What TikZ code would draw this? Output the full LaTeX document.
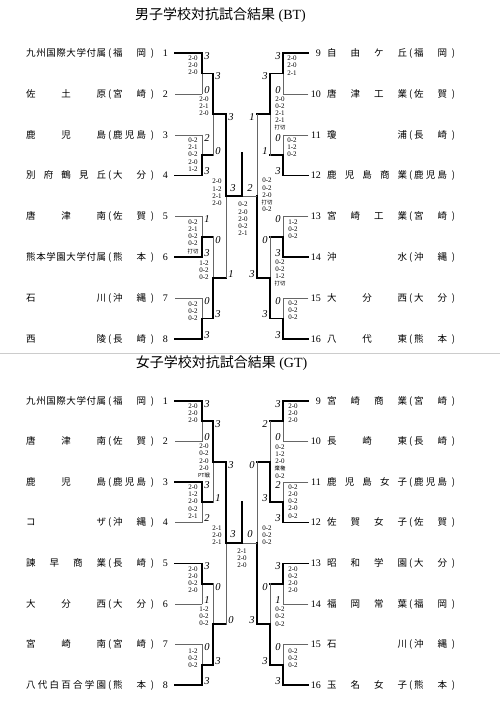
\documentclass[tikz,border=0pt]{standalone}
\usepackage{fontspec}
\setmainfont{Liberation Serif}
\newfontfamily\jp{Noto Sans CJK JP}
\usetikzlibrary{calc}

% spread the characters of a name over its box
\def\spreadit#1{\spreadA#1\relax}
\def\spreadA#1#2{#1\ifx\relax#2\else\hfill\expandafter\spreadA\expandafter#2\fi}
\newcommand\team[2]{\makebox[80pt]{\spreadit{#1}}\makebox[7pt]{(}\makebox[33pt]{\spreadit{#2}}\makebox[8pt][r]{)}}
\newcommand\kj[1]{{\jp\fontsize{5.4}{5}\selectfont #1}}

% id, y, number, name, prefecture, line style
\newcommand\lteam[6]{%
  \node[tnum, anchor=east] (#1) at (168,#2) {#3};
  \node[tname, anchor=west] (#1n) at (26,#2) {\team{#4}{#5}};
  \draw[#6] (#1.east -| LT) -- (#1.east -| LV);
}
\newcommand\rteam[6]{%
  \node[tnum, anchor=east] (#1) at (321,#2) {#3};
  \node[tname, anchor=west] (#1n) at (327,#2) {\team{#4}{#5}};
  \draw[#6] (#1.east -| RT) -- (#1.east -| RV);
}
% [stub style] name, x vertical, x next, y top, y bottom, winner a/b, score top, score bottom
\newcommand\bout[9][won]{%
  \coordinate (#2a) at (#3,#5);
  \coordinate (#2b) at (#3,#6);
  \coordinate (#2) at (#3,{(#5+#6)/2});
  \coordinate (#2s) at (#4,{(#5+#6)/2});
  \if a#7\draw[lost] (#2b) -- (#2);\else\draw[lost] (#2a) -- (#2);\fi
  \draw[won] (#2#7) -- (#2);
  \draw[#1] (#2) -- (#2s);
  \node[pts] at ($(#2a)+({5*sign(#4-#3)},3)$) {#8};
  \node[pts] at ($(#2b)+({5*sign(#4-#3)},-4)$) {#9};
}

\begin{document}
\begin{tikzpicture}[x=1pt, y=-1pt,
    won/.style={line width=1.9pt, line cap=rect},
    lost/.style={line width=0.6pt, black!60, line cap=rect},
    tname/.style={inner sep=0pt, font=\jp\fontsize{9.5}{10}\selectfont},
    tnum/.style={inner sep=0pt, font=\fontsize{10}{10}\selectfont},
    pts/.style={inner sep=0pt, font=\itshape\fontsize{10.5}{10.5}\selectfont},
    games/.style={inner sep=0pt, align=center, font=\fontsize{7}{7.2}\selectfont},
    ttl/.style={inner sep=0pt, font=\fontsize{14}{14}\selectfont},
    scanline/.style={black!20, line width=0.8pt}
]
\fill[white] (0,0) rectangle (500,708);
\useasboundingbox (0,0) rectangle (500,708);

% columns of the team lines
\coordinate (LT) at (175,0);
\coordinate (LV) at (202,0);
\coordinate (RT) at (308,0);
\coordinate (RV) at (283,0);

% ---------------- boys ----------------
\node[ttl] (btitle) at (220.5,15) {{\jp 男子学校対抗試合結果} (BT)};

\lteam{b1}{53}{1}{九州国際大学付属}{福岡}{won}
\lteam{b2}{94}{2}{佐土原}{宮崎}{lost}
\lteam{b3}{135}{3}{鹿児島}{鹿児島}{lost}
\lteam{b4}{175.5}{4}{別府鶴見丘}{大分}{won}
\lteam{b5}{216.5}{5}{唐津南}{佐賀}{lost}
\lteam{b6}{257}{6}{熊本学園大学付属}{熊本}{won}
\lteam{b7}{298}{7}{石川}{沖縄}{lost}
\lteam{b8}{339}{8}{西陵}{長崎}{won}
\rteam{b9}{53}{9}{自由ケ丘}{福岡}{won}
\rteam{b10}{94}{10}{唐津工業}{佐賀}{lost}
\rteam{b11}{135}{11}{瓊浦}{長崎}{lost}
\rteam{b12}{175.5}{12}{鹿児島商業}{鹿児島}{won}
\rteam{b13}{216.5}{13}{宮崎工業}{宮崎}{lost}
\rteam{b14}{257}{14}{沖水}{沖縄}{won}
\rteam{b15}{298}{15}{大分西}{大分}{lost}
\rteam{b16}{339}{16}{八代東}{熊本}{won}

\bout{bL1}{202}{213}{53}{94}{a}{3}{0}
\bout{bL2}{202}{213}{135}{175.5}{b}{2}{3}
\bout{bL3}{202}{213}{216.5}{257}{b}{1}{3}
\bout{bL4}{202}{213}{298}{339}{b}{0}{3}
\bout{bLu}{213}{226}{73.5}{155.25}{a}{3}{0}
\bout{bLd}{213}{226}{236.75}{318.5}{b}{0}{3}
\bout{bLs}{226}{242}{114.375}{277.625}{a}{3}{1}
\bout{bR1}{283}{270}{53}{94}{a}{3}{0}
\bout{bR2}{283}{270}{135}{175.5}{b}{0}{3}
\bout{bR3}{283}{270}{216.5}{257}{b}{0}{3}
\bout{bR4}{283}{270}{298}{339}{b}{0}{3}
\bout{bRu}{270}{257}{73.5}{155.25}{a}{3}{1}
\bout{bRd}{270}{257}{236.75}{318.5}{b}{0}{3}
\bout[lost]{bRs}{257}{242}{114.375}{277.625}{b}{1}{3}

% final
\coordinate (bTop) at (242,153);
\draw[won] (bLss) -- (bTop);
\node[pts] (bfl) at (233,188) {3};
\node[pts] (bfr) at (250,188) {2};

\node[games] (gbL1) at (193,65.5) {2-0\\2-0\\2-0};
\node[games] (gbL2) at (193,154.5) {0-2\\2-1\\0-2\\2-0\\1-2};
\node[games] (gbL3) at (193,236.5) {0-2\\2-1\\0-2\\0-2\\\kj{打切}};
\node[games] (gbL4) at (193,311) {0-2\\0-2\\0-2};
\node[games] (gbLu) at (204,106.5) {2-0\\2-1\\2-0};
\node[games] (gbLd) at (204,270) {1-2\\0-2\\0-2};
\node[games] (gbLs) at (217,192.5) {2-0\\1-2\\2-1\\2-0};
\node[games] (gbF) at (243,219) {0-2\\2-0\\2-0\\0-2\\2-1};
\node[games] (gbR1) at (292,65.5) {2-0\\2-0\\2-1};
\node[games] (gbR2) at (292,147.5) {0-2\\1-2\\0-2};
\node[games] (gbR3) at (293,229.5) {1-2\\0-2\\0-2};
\node[games] (gbR4) at (293,310.5) {0-2\\0-2\\0-2};
\node[games] (gbRu) at (280,113.5) {2-0\\0-2\\2-1\\2-1\\\kj{打切}};
\node[games] (gbRd) at (280,273) {0-2\\0-2\\1-2\\\kj{打切}};
\node[games] (gbRs) at (267,195) {0-2\\0-2\\2-0\\\kj{打切}\\0-2};

\draw[scanline] (0,353) -- (500,353);

% ---------------- girls ----------------
\node[ttl] (gtitle) at (221.5,363) {{\jp 女子学校対抗試合結果} (GT)};

\lteam{g1}{401}{1}{九州国際大学付属}{福岡}{won}
\lteam{g2}{441.5}{2}{唐津南}{佐賀}{lost}
\lteam{g3}{482}{3}{鹿児島}{鹿児島}{won}
\lteam{g4}{522.5}{4}{コザ}{沖縄}{lost}
\lteam{g5}{563.5}{5}{諫早商業}{長崎}{won}
\lteam{g6}{604}{6}{大分西}{大分}{lost}
\lteam{g7}{644.5}{7}{宮崎南}{宮崎}{lost}
\lteam{g8}{685}{8}{八代白百合学園}{熊本}{won}
\rteam{g9}{401}{9}{宮崎商業}{宮崎}{won}
\rteam{g10}{441.5}{10}{長崎東}{長崎}{lost}
\rteam{g11}{482}{11}{鹿児島女子}{鹿児島}{lost}
\rteam{g12}{522.5}{12}{佐賀女子}{佐賀}{won}
\rteam{g13}{563.5}{13}{昭和学園}{大分}{won}
\rteam{g14}{604}{14}{福岡常葉}{福岡}{lost}
\rteam{g15}{644.5}{15}{石川}{沖縄}{lost}
\rteam{g16}{685}{16}{玉名女子}{熊本}{won}

\bout{gL1}{202}{213}{401}{441.5}{a}{3}{0}
\bout{gL2}{202}{213}{482}{522.5}{a}{3}{2}
\bout{gL3}{202}{213}{563.5}{604}{a}{3}{1}
\bout{gL4}{202}{213}{644.5}{685}{b}{0}{3}
\bout{gLu}{213}{226}{421.25}{502.25}{a}{3}{1}
\bout{gLd}{213}{226}{583.75}{664.75}{b}{0}{3}
\bout{gLs}{226}{242}{461.75}{624.25}{a}{3}{0}
\bout{gR1}{283}{270}{401}{441.5}{a}{3}{0}
\bout{gR2}{283}{270}{482}{522.5}{b}{2}{3}
\bout{gR3}{283}{270}{563.5}{604}{a}{3}{1}
\bout{gR4}{283}{270}{644.5}{685}{b}{0}{3}
\bout{gRu}{270}{257}{421.25}{502.25}{b}{2}{3}
\bout{gRd}{270}{257}{583.75}{664.75}{b}{0}{3}
\bout[lost]{gRs}{257}{242}{461.75}{624.25}{b}{0}{3}

% final
\coordinate (gTop) at (242,502);
\draw[won] (gLss) -- (gTop);
\node[pts] (gfl) at (233,534) {3};
\node[pts] (gfr) at (250,534) {0};

\node[games] (ggL1) at (193,413.5) {2-0\\2-0\\2-0};
\node[games] (ggL2) at (193,501.5) {2-0\\1-2\\2-0\\0-2\\2-1};
\node[games] (ggL3) at (193,579.5) {2-0\\2-0\\0-2\\2-0};
\node[games] (ggL4) at (193,658) {1-2\\0-2\\0-2};
\node[games] (ggLu) at (204,461) {2-0\\0-2\\2-0\\2-0\\\kj{PT戦}};
\node[games] (ggLd) at (204,616.5) {1-2\\0-2\\0-2};
\node[games] (ggLs) at (217,535) {2-1\\2-0\\2-1};
\node[games] (ggF) at (242,558) {2-1\\2-0\\2-0};
\node[games] (ggR1) at (293,413.5) {2-0\\2-0\\2-0};
\node[games] (ggR2) at (293,501.5) {0-2\\2-0\\0-2\\2-0\\0-2};
\node[games] (ggR3) at (293,579.5) {2-0\\0-2\\2-0\\2-0};
\node[games] (ggR4) at (293,658) {0-2\\0-2\\0-2};
\node[games] (ggRu) at (280,461.5) {0-2\\1-2\\2-0\\\kj{棄権}\\0-2};
\node[games] (ggRd) at (280,616.5) {0-2\\0-2\\0-2};
\node[games] (ggRs) at (267,535) {0-2\\0-2\\0-2};
\end{tikzpicture}
\end{document}
